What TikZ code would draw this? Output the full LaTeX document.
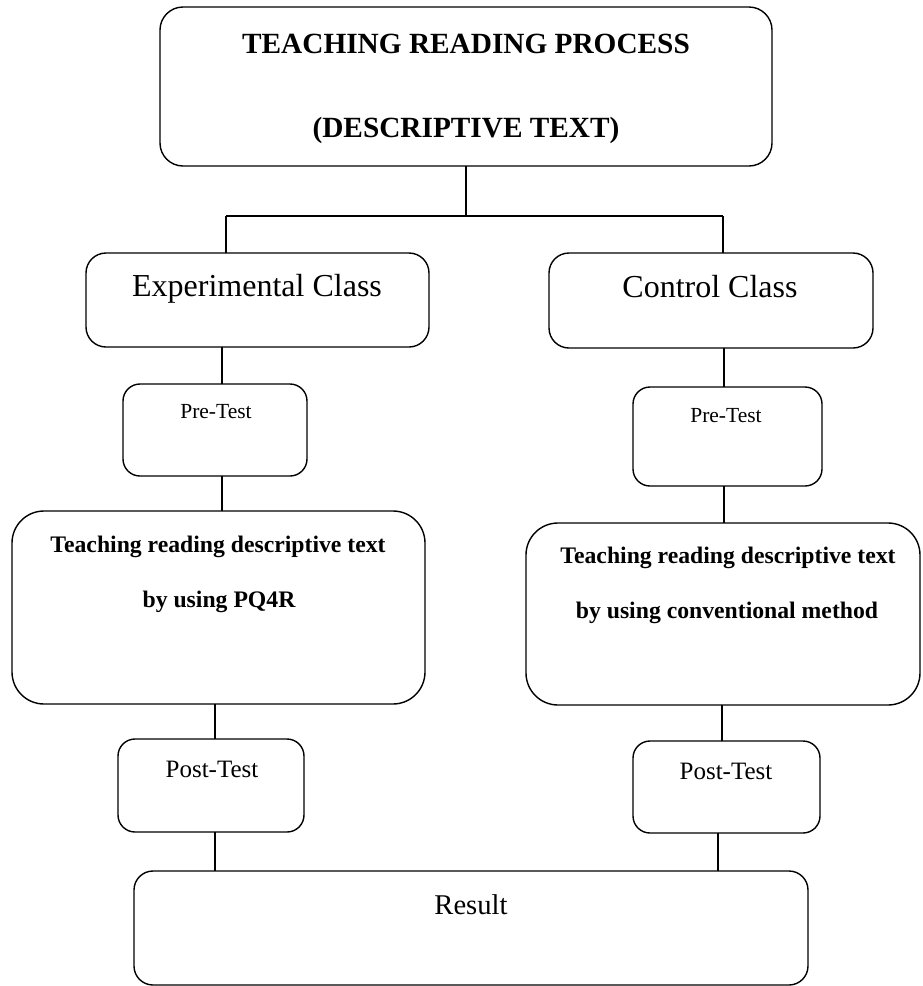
\documentclass[tikz,border=0pt]{standalone}
\usepackage{fontspec}
\setmainfont{Liberation Serif}
\begin{document}
\begin{tikzpicture}[x=1pt,y=-1pt,
  box/.style={draw,line width=1.4pt,rectangle,inner sep=0pt,outer sep=0pt},
  conn/.style={line width=1.4pt},
  lbl/.style={anchor=base,inner sep=0pt,outer sep=0pt}]
\useasboundingbox (0,0) rectangle (922,986);
% boxes
\node[box,rounded corners=23pt,minimum width=612pt,minimum height=159pt] (top) at (466,86.5) {};
\node[box,rounded corners=20pt,minimum width=343pt,minimum height=94pt] (exp) at (257.5,300) {};
\node[box,rounded corners=20pt,minimum width=324pt,minimum height=95pt] (ctl) at (711,300.5) {};
\node[box,rounded corners=17pt,minimum width=184pt,minimum height=92pt] (preL) at (215,430) {};
\node[box,rounded corners=17pt,minimum width=189pt,minimum height=99pt] (preR) at (727.5,436.5) {};
\node[box,rounded corners=32pt,minimum width=413pt,minimum height=193pt] (teachL) at (218.5,607.5) {};
\node[box,rounded corners=32pt,minimum width=394pt,minimum height=182pt] (teachR) at (723,614) {};
\node[box,rounded corners=17pt,minimum width=186pt,minimum height=93pt] (postL) at (211,785.5) {};
\node[box,rounded corners=17pt,minimum width=187pt,minimum height=92pt] (postR) at (726.5,787) {};
\node[box,rounded corners=19pt,minimum width=674pt,minimum height=114pt] (res) at (471,928) {};
% texts
\node[lbl,font=\fontsize{29.3}{35}\selectfont\bfseries] (t1) at (466,53) {TEACHING READING PROCESS};
\node[lbl,font=\fontsize{29.3}{35}\selectfont\bfseries] (t2) at (466,137) {(DESCRIPTIVE TEXT)};
\node[lbl,font=\fontsize{32}{38}\selectfont] (texp) at (257,296) {Experimental Class};
\node[lbl,font=\fontsize{32}{38}\selectfont] (tctl) at (710,297) {Control Class};
\node[lbl,font=\fontsize{21.5}{26}\selectfont] (tpreL) at (216,418) {Pre-Test};
\node[lbl,font=\fontsize{21.5}{26}\selectfont] (tpreR) at (726,422) {Pre-Test};
\node[lbl,font=\fontsize{23.7}{28}\selectfont\bfseries] (tteachL1) at (218,552) {Teaching reading descriptive text};
\node[lbl,font=\fontsize{23.7}{28}\selectfont\bfseries] (tteachL2) at (219,607) {by using PQ4R};
\node[lbl,font=\fontsize{23.7}{28}\selectfont\bfseries] (tteachR1) at (728,563) {Teaching reading descriptive text};
\node[lbl,font=\fontsize{23.7}{28}\selectfont\bfseries] (tteachR2) at (727,618) {by using conventional method};
\node[lbl,font=\fontsize{25}{30}\selectfont] (tpostL) at (212,777) {Post-Test};
\node[lbl,font=\fontsize{25}{30}\selectfont] (tpostR) at (726,779) {Post-Test};
\node[lbl,font=\fontsize{28.6}{34}\selectfont] (tres) at (471,914) {Result};
% connector coordinates
\coordinate (jl) at (226,216);
\coordinate (jr) at (723,216);
\coordinate (cl1) at (222,0);
\coordinate (cl2) at (215,0);
\coordinate (cr1) at (724,0);
\coordinate (cr2) at (722,0);
\coordinate (cr3) at (718,0);
% connectors
\draw[conn] (top.south) -- (top.south |- jl);
\draw[conn] (jl) -- (jr);
\draw[conn] (jl) -- (jl |- exp.north);
\draw[conn] (jr) -- (jr |- ctl.north);
\draw[conn] (cl1 |- exp.south) -- (cl1 |- preL.north);
\draw[conn] (cl1 |- preL.south) -- (cl1 |- teachL.north);
\draw[conn] (cl2 |- teachL.south) -- (cl2 |- postL.north);
\draw[conn] (cl2 |- postL.south) -- (cl2 |- res.north);
\draw[conn] (cr1 |- ctl.south) -- (cr1 |- preR.north);
\draw[conn] (cr1 |- preR.south) -- (cr1 |- teachR.north);
\draw[conn] (cr2 |- teachR.south) -- (cr2 |- postR.north);
\draw[conn] (cr3 |- postR.south) -- (cr3 |- res.north);
\end{tikzpicture}
\end{document}
